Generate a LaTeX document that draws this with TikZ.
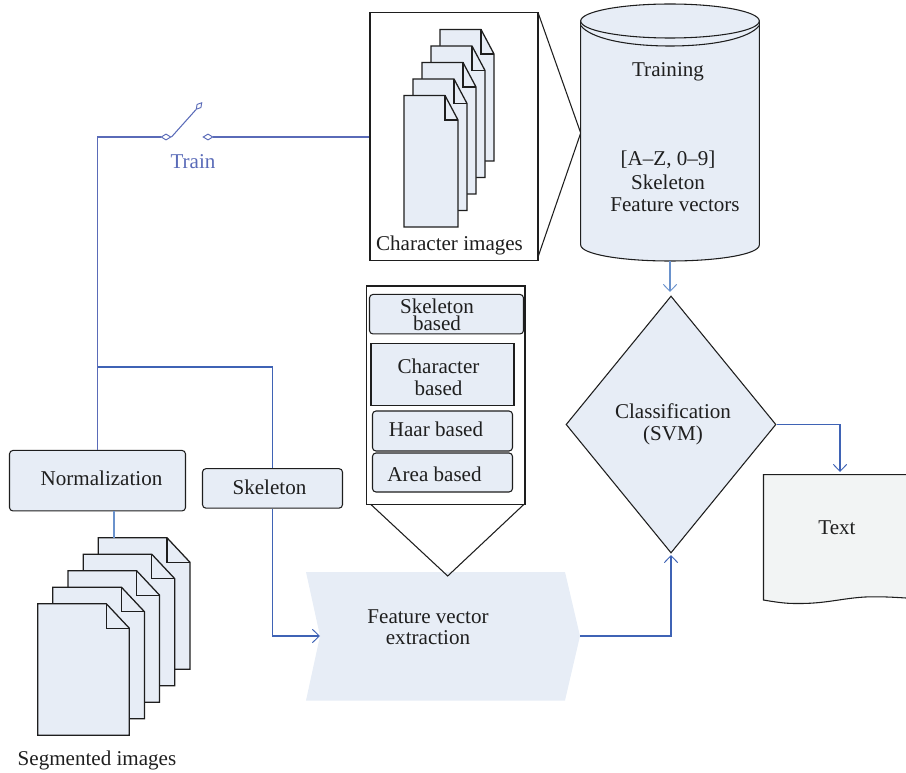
\documentclass[tikz,border=0pt]{standalone}
\usepackage{fontspec}
\setmainfont{Liberation Serif}
\usetikzlibrary{arrows.meta,shapes.geometric}
\definecolor{pale}{HTML}{E7EDF6}
\definecolor{paper}{HTML}{F2F4F4}
\definecolor{wireblue}{HTML}{3F63B5}
\definecolor{wireviolet}{HTML}{5A6BB8}
\definecolor{wirelight}{HTML}{6A92CC}
\definecolor{edge}{HTML}{1E1E1E}
\tikzset{
  x=0.75pt,y=-0.75pt,
  label text/.style={font=\fontsize{15.8}{18}\selectfont,text=black!88,inner sep=0pt,align=center},
  pagesheet/.style={fill=pale,draw=edge,line width=0.95pt,line join=miter},
  shape line/.style={fill=pale,draw=edge,line width=0.8pt},
  box/.style 2 args={shape line,rectangle,inner sep=0pt,minimum width=#1*0.75pt,minimum height=#2*0.75pt},
  rbox/.style 2 args={box={#1}{#2},rounded corners=2.6pt},
  wire/.style={draw=wireblue,line width=0.8pt},
  vwire/.style={draw=wireviolet,line width=0.8pt},
  barb/.style={-{Straight Barb[length=5.2pt,width=10pt,line width=0.7pt]}},
  contact/.style={diamond,draw=wireviolet,fill=white,line width=0.7pt,inner sep=0pt,minimum width=7.5pt,minimum height=4.6pt},
}
% x y width height foldx foldh
\newcommand{\sheet}[6]{%
  \draw[pagesheet] (#1,#2) -- (#1+#5,#2) -- (#1+#3,#2+#6) -- (#1+#3,#2+#4) -- (#1,#2+#4) -- cycle;
  \draw[pagesheet,fill=none] (#1+#5,#2) -- (#1+#5,#2+#6) -- (#1+#3,#2+#6);
}
\begin{document}
\begin{tikzpicture}
\useasboundingbox (0,0) rectangle (906,773);

% Character image panel
\node[rectangle,draw=edge,line width=0.8pt,fill=white,inner sep=0pt,minimum width=126pt,minimum height=186.4pt] (charbox) at (454,136.7) {};
\draw[edge,line width=0.8pt] (538,12.5) -- (580.7,133) -- (538,257);
\foreach \i in {4,3,2,1,0} {\sheet{404+9*\i}{95.5-16.5*\i}{54}{131.5}{41}{24.5}}
\node[label text] (chartxt) at (449.5,245) {Character images};

% Training cylinder
\draw[shape line] (580.7,21) -- (580.7,245) .. controls (580.7,254) and (620,261) .. (670,261) .. controls (720,261) and (759.3,254) .. (759.3,245) -- (759.3,21) -- cycle;
\draw[shape line] (670,21) ellipse [x radius=89.3,y radius=17];
\draw[edge,line width=0.8pt] (580.7,25.5) .. controls (590,38) and (625,46) .. (670,46) .. controls (715,46) and (750,38) .. (759.3,25.5);
\coordinate (cylbottom) at (670,261);
\node[label text] (trainingtxt) at (668,71.5) {Training};
\node[label text] (settxt) at (668,159.5) {[A–Z, 0–9]};
\node[label text] (skeltxt) at (668,182) {Skeleton};
\node[label text] (feattxt) at (675,204.5) {Feature vectors};

% Classification diamond
\node[diamond,shape line,inner sep=0pt,shape aspect=0.82,minimum width=157.5pt,minimum height=192.75pt] (classify) at (671,424.5) {};
\node[label text] (classtxt) at (673,424) {Classification\\[-1.5pt](SVM)};

% Output text document
\fill[paper] (763.5,474.7) -- (906,474.7) -- (906,598) .. controls (890,597) and (880,596.5) .. (865,597) .. controls (840,598.5) and (825,604) .. (795,603.5) .. controls (785,603.5) and (775,602) .. (763.5,600) -- cycle;
\draw[edge,line width=0.8pt] (906,474.7) -- (763.5,474.7) -- (763.5,600) .. controls (775,602) and (785,603.5) .. (795,603.5) .. controls (825,604) and (840,598.5) .. (865,597) .. controls (880,596.5) and (890,597) .. (906,598);
\coordinate (texttop) at (840,472);
\node[label text] (texttxt) at (837,527.5) {Text};

% Feature vector extraction
\fill[pale] (306,572) -- (565,572) -- (580,636) -- (565,700.5) -- (306,700.5) -- (320,636) -- cycle;
\coordinate (featin) at (320,636);
\coordinate (featout) at (580,636);
\node[label text] (extracttxt) at (428,627) {Feature vector\\[-2.5pt]extraction};

% Feature method panel
\draw[edge,line width=0.8pt,fill=white] (366.7,286) -- (525,286) -- (525,504.3) -- (366.7,504.3) -- cycle;
\draw[edge,line width=0.8pt] (370.7,504.3) -- (447.7,576) -- (524,504.3);
\node[rbox={154}{39.5}] (skelbased) at (446.5,314.2) {};
\node[label text,align=center] (skelbasedtxt) at (437,315) {Skeleton\\[-5.2pt]based};
\node[box={143}{62}] (charbased) at (442.5,374.5) {};
\node[label text] (charbasedtxt) at (438.5,377) {Character\\[-1.5pt]based};
\node[rbox={140}{40}] (haar) at (442.5,431) {};
\node[label text] (haartxt) at (436,429.5) {Haar based};
\node[rbox={140}{39}] (area) at (442.5,472.5) {};
\node[label text] (areatxt) at (434.5,474) {Area based};

% Preprocessing boxes
\node[rbox={176}{60.5}] (norm) at (97.5,480.7) {};
\node[label text] (normtxt) at (101.5,478.5) {Normalization};
\node[rbox={140}{39.5}] (skel) at (272.5,488.4) {};
\node[label text] (skeltext) at (269.5,487.5) {Skeleton};

% Segmented images
\foreach \i in {4,3,2,1,0} {\sheet{37.7+15.15*\i}{603.7-16.5*\i}{91.6}{131.5}{68.6}{24.5}}
\coordinate (segtop) at (114,537.7);
\node[label text] (segtxt) at (97,760.5) {Segmented images};

% Switch
\node[contact] (swa) at (166,137) {};
\node[contact] (swb) at (208,137) {};
\node[contact,minimum width=6.6pt,minimum height=4pt,rotate=50] (swc) at (199,106) {};
\node[label text,text=wireviolet] (traintxt) at (193,162) {Train};

% Connectors
\coordinate (junction) at (97.5,367);
\draw[vwire] (norm.north) -- (junction) -- (97.5,137) -- (swa.west);
\draw[vwire] (swa.east) -- (swc.west);
\draw[vwire] (swb.east) -- (charbox.west |- swb.east);
\draw[wire] (junction) -| (skel.north);
\draw[wire,barb] (skel.south) |- (featin);
\draw[draw=wirelight,line width=1pt] (114,0 |- norm.south) -- (segtop);
\draw[draw=wirelight,line width=0.8pt,barb] (cylbottom) -- (670,292);
\draw[wire,barb] (classify.east) -| (texttop);
\draw[wire,barb] (featout) -| (671,555);
\end{tikzpicture}
\end{document}
